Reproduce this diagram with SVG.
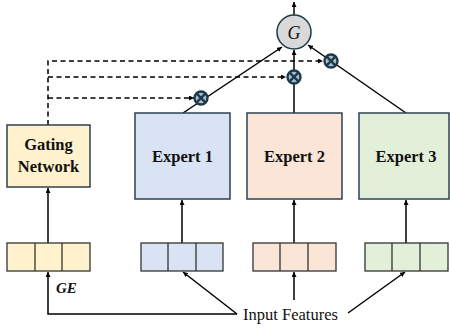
<svg xmlns="http://www.w3.org/2000/svg" width="450" height="328" viewBox="0 0 450 328">
<defs>
<marker id="ah" viewBox="0 0 10 10" refX="10" refY="5" markerWidth="5" markerHeight="5" orient="auto-start-reverse" markerUnits="userSpaceOnUse">
<path d="M0,0 L10,5 L0,10 z" fill="#000"/>
</marker>
<style>
.box{stroke:#2e4150;stroke-width:1.5}
.cell{stroke:#333;stroke-width:1.3}
.lbl{font-family:"Liberation Serif",serif;font-weight:bold;font-size:16.5px;text-anchor:middle;fill:#111}
.ln{stroke:#000;stroke-width:1.5;fill:none}
.dash{stroke:#000;stroke-width:1.5;fill:none;stroke-dasharray:5,3.5}
.mul circle{fill:#a8bccb;stroke:#1e3a4a;stroke-width:2.4}
.mul path{stroke:#1e3a4a;stroke-width:2.4}
</style>
</defs>
<rect width="450" height="328" fill="#fff"/>
<g id="connectors">
<line class="ln" x1="48" y1="243" x2="48" y2="188" marker-end="url(#ah)"/>
<line class="ln" x1="182" y1="243" x2="182" y2="200" marker-end="url(#ah)"/>
<line class="ln" x1="294" y1="243" x2="294" y2="200" marker-end="url(#ah)"/>
<line class="ln" x1="406" y1="243" x2="406" y2="200" marker-end="url(#ah)"/>
<polyline class="ln" points="237,314 48,314 48,272" marker-end="url(#ah)"/>
<line class="ln" x1="237" y1="314" x2="183" y2="272" marker-end="url(#ah)"/>
<line class="ln" x1="294" y1="300" x2="294" y2="272" marker-end="url(#ah)"/>
<line class="ln" x1="348" y1="313" x2="405" y2="272" marker-end="url(#ah)"/>
<line class="ln" x1="183" y1="113" x2="282" y2="47" marker-end="url(#ah)"/>
<line class="ln" x1="294" y1="113" x2="294" y2="50" marker-end="url(#ah)"/>
<line class="ln" x1="406" y1="113" x2="308" y2="45" marker-end="url(#ah)"/>
<line class="ln" x1="294" y1="15" x2="294" y2="2" marker-end="url(#ah)"/>
<polyline class="dash" points="48,125 48,61 323,61" marker-end="url(#ah)"/>
<polyline class="dash" points="48,77 286,77" marker-end="url(#ah)"/>
<polyline class="dash" points="48,98 194,98" marker-end="url(#ah)"/>
</g>
<g id="mult1" class="mul"><circle cx="201" cy="98" r="6.5"/><path d="M196.4,93.4 L205.6,102.6 M205.6,93.4 L196.4,102.6"/></g>
<g id="mult2" class="mul"><circle cx="294" cy="77" r="6.5"/><path d="M289.4,72.4 L298.6,81.6 M298.6,72.4 L289.4,81.6"/></g>
<g id="mult3" class="mul"><circle cx="331" cy="61" r="6.5"/><path d="M326.4,56.4 L335.6,65.6 M335.6,56.4 L326.4,65.6"/></g>
<g id="G">
<circle cx="294" cy="32" r="17" fill="#d9d9d9" stroke="#1e3a4a" stroke-width="1.5"/>
<text x="294" y="38.5" font-family="Liberation Serif,serif" font-style="italic" font-size="18" text-anchor="middle" fill="#111">G</text>
</g>
<g id="gating">
<rect class="box" x="7" y="125" width="83" height="62" fill="#fff2cc"/>
<text class="lbl" x="48.5" y="150">Gating</text>
<text class="lbl" x="48.5" y="172">Network</text>
</g>
<g id="expert1">
<rect class="box" x="135" y="113" width="95" height="86" fill="#dae3f3"/>
<text class="lbl" x="182.5" y="162">Expert 1</text>
</g>
<g id="expert2">
<rect class="box" x="247" y="113" width="95" height="86" fill="#fbe5d6"/>
<text class="lbl" x="294.5" y="162">Expert 2</text>
</g>
<g id="expert3">
<rect class="box" x="359" y="113" width="90" height="86" fill="#e2f0d9"/>
<text class="lbl" x="406" y="162">Expert 3</text>
</g>
<g id="vec-gating">
<rect class="cell" x="7" y="243" width="83" height="28" fill="#fff2cc"/>
<path class="cell" d="M35,243 V271 M62,243 V271"/>
</g>
<g id="vec-expert1">
<rect class="cell" x="141" y="243" width="82" height="28" fill="#dae3f3"/>
<path class="cell" d="M168,243 V271 M196,243 V271"/>
</g>
<g id="vec-expert2">
<rect class="cell" x="253" y="243" width="83" height="28" fill="#fbe5d6"/>
<path class="cell" d="M280,243 V271 M308,243 V271"/>
</g>
<g id="vec-expert3">
<rect class="cell" x="365" y="243" width="83" height="28" fill="#e2f0d9"/>
<path class="cell" d="M392,243 V271 M420,243 V271"/>
</g>
<g id="labels">
<text x="56" y="293" font-family="Liberation Serif,serif" font-weight="bold" font-style="italic" font-size="15" fill="#111">GE</text>
<text x="290.5" y="320" font-family="Liberation Serif,serif" font-size="16.5" text-anchor="middle" fill="#111">Input Features</text>
</g>
</svg>
